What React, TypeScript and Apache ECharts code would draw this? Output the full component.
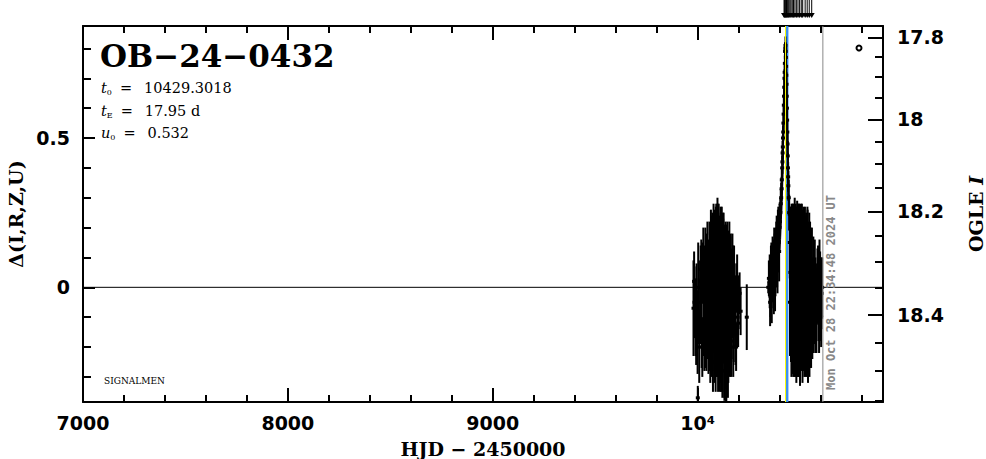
import React, { useEffect, useRef } from "react";
import * as echarts from "echarts";

// ---------- axis ranges & ticks ----------
const X_MIN = 7000;
const X_MAX = 10905;
const Y_MIN = -0.384;
const Y_MAX = 0.875;
const xMajorTicks = [7000, 8000, 9000, 10000];
const xMinorTicks = [7200, 7400, 7600, 7800, 8200, 8400, 8600, 8800, 9200, 9400, 9600, 9800, 10200, 10400, 10600, 10800];
const yMajorTicks = [0, 0.5];
const yMinorTicks = [-0.3, -0.2, -0.1, 0.1, 0.2, 0.3, 0.4, 0.6, 0.7, 0.8];
const ogleMajorTicks = [17.8, 18, 18.2, 18.4];
const ogleMinorTicks = [17.85, 17.9, 17.95, 18.05, 18.1, 18.15, 18.25, 18.3, 18.35, 18.45, 18.5, 18.55];

// ---------- light curve data: [HJD-2450000, delta, error] ----------
const season2023: number[][] = [
  [9980, -0.07, 0.16], [9985, -0.05, 0.12], [9990, -0.1, 0.13], [9995, -0.02, 0.1],
  [10000, -0.15, 0.14], [10001, -0.37, 0.04], [10005, -0.08, 0.11], [10015, 0.02, 0.12],
  [10020, -0.12, 0.15], [10025, 0.05, 0.1], [10030, -0.05, 0.18], [10035, 0.0, 0.14],
  [10040, -0.15, 0.12], [10045, 0.08, 0.1], [10050, -0.08, 0.16], [10055, 0.03, 0.13],
  [10060, -0.1, 0.18], [10063, 0.1, 0.08], [10066, -0.04, 0.14], [10070, 0.12, 0.12],
  [10073, -0.18, 0.1], [10076, 0.05, 0.15], [10080, -0.02, 0.2], [10083, 0.15, 0.1],
  [10086, -0.12, 0.17], [10089, 0.18, 0.09], [10092, 0.02, 0.22], [10095, -0.2, 0.1],
  [10098, 0.14, 0.14], [10101, 0.05, 0.2], [10104, -0.1, 0.18], [10107, 0.12, 0.12],
  [10110, -0.05, 0.22], [10113, -0.22, 0.1], [10116, 0.08, 0.15], [10119, 0.0, 0.2],
  [10122, -0.15, 0.2], [10125, 0.1, 0.13], [10128, -0.05, 0.18], [10131, -0.28, 0.1],
  [10134, 0.05, 0.16], [10137, -0.12, 0.22], [10140, -0.3, 0.08], [10143, 0.06, 0.15],
  [10146, -0.08, 0.18], [10150, -0.2, 0.12], [10153, 0.02, 0.17], [10156, -0.1, 0.15],
  [10160, 0.05, 0.12], [10164, -0.18, 0.12], [10168, -0.02, 0.15], [10172, 0.04, 0.1],
  [10176, -0.12, 0.13], [10180, -0.04, 0.12], [10185, -0.16, 0.1], [10190, 0.0, 0.08],
  [10195, -0.1, 0.1], [10200, -0.05, 0.09], [10210, -0.08, 0.08], [10240, -0.1, 0.11],
];
const season2023b: number[][] = [
  [9983, 0.02, 0.1], [9993, -0.14, 0.12], [10003, 0.0, 0.15], [10008, -0.2, 0.12],
  [10012, -0.05, 0.14], [10018, 0.06, 0.1], [10023, -0.2, 0.1], [10028, 0.1, 0.1],
  [10033, -0.12, 0.16], [10038, 0.05, 0.15], [10043, -0.08, 0.2], [10048, 0.12, 0.1],
  [10053, -0.15, 0.14], [10058, 0.06, 0.16], [10062, -0.2, 0.12], [10065, 0.18, 0.08],
  [10068, -0.1, 0.2], [10072, 0.05, 0.2], [10075, -0.25, 0.1], [10078, 0.2, 0.08],
  [10082, -0.1, 0.22], [10085, 0.08, 0.18], [10088, -0.2, 0.15], [10091, 0.22, 0.06],
  [10094, -0.05, 0.25], [10097, 0.1, 0.2], [10100, -0.15, 0.2], [10103, 0.2, 0.08],
  [10106, -0.02, 0.25], [10109, -0.25, 0.1], [10112, 0.15, 0.12], [10115, -0.1, 0.25],
  [10118, 0.12, 0.15], [10121, -0.25, 0.12], [10124, 0.0, 0.25], [10127, 0.15, 0.1],
  [10130, -0.15, 0.22], [10133, -0.05, 0.25], [10136, 0.1, 0.12], [10139, -0.2, 0.2],
  [10142, -0.05, 0.2], [10145, 0.12, 0.1], [10148, -0.25, 0.12], [10152, -0.05, 0.2],
  [10155, 0.1, 0.12], [10158, -0.15, 0.15], [10162, 0.0, 0.18], [10166, -0.12, 0.12],
  [10170, 0.08, 0.1], [10174, -0.2, 0.1], [10178, 0.02, 0.12], [10183, -0.08, 0.12],
  [10188, -0.2, 0.08], [10193, 0.03, 0.08], [10198, -0.12, 0.08], [10205, -0.02, 0.07],
];
const season2024Rise: number[][] = [
  [10345, 0.0, 0.02], [10352, 0.02, 0.09], [10356, -0.03, 0.07], [10360, 0.05, 0.1],
  [10364, 0.01, 0.06], [10368, 0.08, 0.08], [10372, -0.02, 0.07], [10376, 0.1, 0.08],
  [10380, 0.06, 0.09], [10384, 0.14, 0.08], [10388, 0.1, 0.1], [10392, 0.18, 0.08],
  [10396, 0.15, 0.1], [10400, 0.2, 0.08],
  [10348, 0.03, 0.06], [10354, -0.05, 0.08], [10358, 0.06, 0.08], [10362, -0.02, 0.1],
  [10366, 0.1, 0.07], [10370, 0.03, 0.1], [10374, 0.12, 0.08], [10378, 0.02, 0.1],
  [10382, 0.1, 0.1], [10386, 0.16, 0.08], [10390, 0.08, 0.1], [10394, 0.2, 0.07],
  [10398, 0.12, 0.1],
];
const season2024Peak: number[][] = [
  [10404, 0.25, 0.05], [10408, 0.3, 0.05], [10411, 0.36, 0.04], [10414, 0.42, 0.04],
  [10416, 0.47, 0.04], [10418, 0.52, 0.03], [10420, 0.58, 0.03], [10422, 0.64, 0.03],
  [10424, 0.7, 0.03], [10426, 0.75, 0.03], [10427, 0.79, 0.03], [10428, 0.8, 0.02],
  [10430, 0.79, 0.03], [10432, 0.74, 0.03], [10434, 0.68, 0.04], [10436, 0.6, 0.04],
  [10438, 0.52, 0.04], [10440, 0.44, 0.05], [10442, 0.37, 0.05], [10445, 0.3, 0.06],
  [10402, 0.22, 0.05], [10406, 0.28, 0.05], [10410, 0.33, 0.04], [10413, 0.4, 0.04],
  [10415, 0.45, 0.04], [10417, 0.5, 0.04], [10419, 0.55, 0.03], [10421, 0.61, 0.03],
  [10423, 0.67, 0.03], [10425, 0.72, 0.03], [10429, 0.81, 0.03], [10431, 0.77, 0.03],
  [10433, 0.71, 0.03], [10435, 0.64, 0.04], [10437, 0.56, 0.04], [10439, 0.48, 0.04],
  [10441, 0.4, 0.05], [10443, 0.34, 0.05], [10447, 0.25, 0.06],
];
const season2024Tail: number[][] = [
  [10450, 0.15, 0.12], [10453, 0.05, 0.2], [10456, -0.1, 0.15], [10459, 0.18, 0.1],
  [10462, 0.0, 0.22], [10465, -0.15, 0.14], [10468, 0.12, 0.16], [10471, -0.05, 0.2],
  [10474, 0.2, 0.1], [10477, -0.2, 0.1], [10480, 0.05, 0.22], [10483, -0.08, 0.18],
  [10486, 0.15, 0.14], [10489, -0.18, 0.12], [10492, 0.02, 0.25], [10495, 0.1, 0.18],
  [10498, -0.22, 0.08], [10501, -0.02, 0.2], [10504, 0.16, 0.12], [10507, -0.12, 0.16],
  [10510, 0.06, 0.2], [10513, -0.05, 0.22], [10516, 0.12, 0.15], [10519, -0.18, 0.1],
  [10522, 0.02, 0.18], [10525, -0.08, 0.2], [10528, 0.1, 0.14], [10531, -0.15, 0.14],
  [10534, 0.0, 0.2], [10537, 0.14, 0.12], [10540, -0.1, 0.16], [10543, 0.04, 0.18],
  [10546, -0.2, 0.1], [10549, 0.08, 0.14], [10552, -0.06, 0.18], [10556, 0.02, 0.15],
  [10560, -0.12, 0.12], [10565, 0.05, 0.12], [10570, -0.05, 0.14], [10575, 0.0, 0.1],
  [10580, -0.1, 0.12], [10585, 0.04, 0.09], [10590, -0.06, 0.12], [10595, 0.02, 0.14],
  [10600, -0.08, 0.1], [10605, -0.02, 0.12],
];
const season2024TailB: number[][] = [
  [10451, -0.05, 0.18], [10455, 0.15, 0.12], [10458, -0.2, 0.1], [10461, 0.1, 0.15],
  [10464, 0.2, 0.08], [10467, -0.1, 0.2], [10470, 0.1, 0.15], [10473, -0.15, 0.15],
  [10476, 0.05, 0.2], [10479, 0.18, 0.1], [10482, -0.2, 0.12], [10485, 0.0, 0.25],
  [10488, 0.12, 0.15], [10491, -0.12, 0.18], [10494, 0.2, 0.08], [10497, -0.05, 0.22],
  [10500, -0.25, 0.08], [10503, 0.08, 0.18], [10506, -0.05, 0.2], [10509, 0.18, 0.1],
  [10512, -0.2, 0.12], [10515, 0.0, 0.22], [10518, 0.1, 0.15], [10521, -0.12, 0.18],
  [10524, 0.15, 0.12], [10527, -0.2, 0.1], [10530, 0.05, 0.2], [10533, -0.1, 0.2],
  [10536, 0.12, 0.15], [10539, -0.2, 0.12], [10542, 0.0, 0.2], [10545, 0.1, 0.15],
  [10548, -0.12, 0.15], [10551, 0.05, 0.15], [10554, -0.15, 0.12], [10558, 0.06, 0.14],
  [10562, -0.05, 0.15], [10567, -0.12, 0.1], [10572, 0.04, 0.12], [10577, -0.08, 0.14],
  [10583, -0.02, 0.1], [10588, 0.06, 0.08], [10593, -0.12, 0.1], [10598, 0.0, 0.12],
  [10603, -0.1, 0.1], [10608, 0.0, 0.1],
];
// points above the top of the plot (drawn as arrows)
const offScaleHjd = [10422, 10425, 10428, 10431, 10434, 10438, 10442, 10446, 10451, 10456, 10462, 10468, 10475, 10482, 10490, 10498, 10506, 10513, 10525, 10535, 10545, 10557];
// model curve
const modelHjd = [7000, 10370, 10390, 10405, 10415, 10422, 10428, 10435, 10442, 10452, 10468, 10490, 10905];
const modelDelta = [0, 0, 0.06, 0.16, 0.33, 0.55, 0.8, 0.55, 0.33, 0.16, 0.06, 0, 0];

const T0 = 10429.3018;
const MARK_HJD = 10436;
const NOW_HJD = 10611.44;
const NOW_LABEL = "Mon Oct 28 22:34:48 2024 UT";

// OGLE I magnitude <-> delta (right axis transform)
const magToDelta = (m: number) => 0.5623 - 2.527 * (Math.pow(10, 0.25 * (m - 18)) - 1);
const deltaToMag = (d: number) => 18 + 4 * Math.log10(1 + (0.5623 - d) / 2.527);

const SANS = '"DejaVu Sans", sans-serif';
const SERIF = '"DejaVu Serif", serif';

function errRender(params: any, api: any) {
  const x = api.value(0), v = api.value(1), e = api.value(2);
  const cs = params.coordSys;
  const c = api.coord([x, v]);
  const t = api.coord([x, v + e]);
  const b = api.coord([x, v - e]);
  const y1 = Math.max(cs.y, t[1]);
  const y2 = Math.min(cs.y + cs.height, b[1]);
  const children: any[] = [];
  if (y2 > y1) {
    children.push({ type: "line", shape: { x1: c[0], y1, x2: c[0], y2 }, style: { stroke: "#000", lineWidth: 2 } });
  }
  if (c[1] >= cs.y && c[1] <= cs.y + cs.height) {
    children.push({ type: "rect", shape: { x: c[0] - 2, y: c[1] - 1.5, width: 4, height: 3 }, style: { fill: "#000" } });
  }
  return { type: "group", children };
}

function vline(color: string, width: number, label?: string) {
  return (params: any, api: any) => {
    const cs = params.coordSys;
    const c = api.coord([api.value(0), 0]);
    const children: any[] = [
      { type: "line", shape: { x1: c[0], y1: cs.y, x2: c[0], y2: cs.y + cs.height }, style: { stroke: color, lineWidth: width } },
    ];
    if (label) {
      children.push({
        type: "text",
        x: c[0] + 8,
        y: cs.y + cs.height - 12,
        rotation: Math.PI / 2,
        style: { text: label, fill: color, font: 'bold 12px "DejaVu Sans Mono", monospace', align: "left", verticalAlign: "middle" },
      });
    }
    return { type: "group", children };
  };
}

function arrowRender(params: any, api: any) {
  const cs = params.coordSys;
  const c = api.coord([api.value(0), Y_MAX]);
  const top = cs.y;
  return {
    type: "group",
    children: [
      { type: "line", shape: { x1: c[0], y1: top - 26, x2: c[0], y2: top - 10 }, style: { stroke: "#000", lineWidth: 1 } },
      { type: "polygon", shape: { points: [[c[0] - 3, top - 13], [c[0] + 3, top - 13], [c[0], top - 8]] }, style: { fill: "#000" } },
    ],
  };
}

export default function App() {
  const ref = useRef<HTMLDivElement>(null);
  useEffect(() => {
    if (!ref.current) return;
    const chart = echarts.init(ref.current, null, { renderer: "svg" });
    const axisLineStyle = { color: "#000", width: 2 };
    const tickLabel = { color: "#000", fontFamily: SANS, fontWeight: "bold" as const, fontSize: 19 };
    const xBase = { type: "value" as const, min: X_MIN, max: X_MAX, splitLine: { show: false } };
    const yBase = { type: "value" as const, min: Y_MIN, max: Y_MAX, splitLine: { show: false } };
    const sub = { fontFamily: SERIF, fontSize: 8, fill: "#000", padding: [8, 0, 0, 0] };
    const rich = {
      t: { fontFamily: SERIF, fontStyle: "italic", fontSize: 14.5, fill: "#000" },
      s: sub,
      e: { fontFamily: SERIF, fontSize: 14.5, fill: "#000", padding: [0, 0, 0, 8] },
      n: { fontFamily: SERIF, fontSize: 14.5, fill: "#000", padding: [0, 0, 0, 12] },
    };
    const option: any = {
      animation: false,
      backgroundColor: "#fff",
      grid: { left: 83, right: 103, top: 26, bottom: 57, containLabel: false, outerBoundsMode: "none" },
      xAxis: [
        {
          ...xBase, position: "bottom",
          axisLine: { onZero: false, lineStyle: axisLineStyle },
          axisTick: { inside: true, length: 14, lineStyle: { color: "#000", width: 2 }, customValues: xMajorTicks },
          axisLabel: {
            ...tickLabel, margin: 11, customValues: xMajorTicks,
            formatter: (v: number) => (v === 10000 ? "10⁴" : String(v)),
          },
          name: "HJD − 2450000", nameLocation: "middle", nameGap: 37,
          nameTextStyle: { color: "#000", fontFamily: SERIF, fontWeight: "bold", fontSize: 19 },
        },
        {
          ...xBase, position: "bottom",
          axisLine: { show: false, onZero: false },
          axisTick: { inside: true, length: 7, lineStyle: { color: "#000", width: 2 }, customValues: xMinorTicks },
          axisLabel: { show: false },
        },
        {
          ...xBase, position: "top",
          axisLine: { onZero: false, lineStyle: axisLineStyle },
          axisTick: { inside: true, length: 14, lineStyle: { color: "#000", width: 2 }, customValues: xMajorTicks },
          axisLabel: { show: false },
        },
        {
          ...xBase, position: "top",
          axisLine: { show: false, onZero: false },
          axisTick: { inside: true, length: 7, lineStyle: { color: "#000", width: 2 }, customValues: xMinorTicks },
          axisLabel: { show: false },
        },
      ],
      yAxis: [
        {
          ...yBase, position: "left",
          axisLine: { onZero: false, lineStyle: axisLineStyle },
          axisTick: { inside: true, length: 12, lineStyle: { color: "#000", width: 2 }, customValues: yMajorTicks },
          axisLabel: { ...tickLabel, margin: 13, customValues: yMajorTicks, formatter: (v: number) => String(v) },
          name: "Δ(I,R,Z,U)", nameLocation: "middle", nameGap: 58, nameRotate: 90,
          nameTextStyle: { color: "#000", fontFamily: SERIF, fontWeight: "bold", fontSize: 19 },
        },
        {
          ...yBase, position: "left",
          axisLine: { show: false, onZero: false },
          axisTick: { inside: true, length: 8, lineStyle: { color: "#000", width: 2 }, customValues: yMinorTicks },
          axisLabel: { show: false },
        },
        {
          ...yBase, position: "right",
          axisLine: { onZero: false, lineStyle: axisLineStyle },
          axisTick: { inside: true, length: 15, lineStyle: { color: "#000", width: 2 }, customValues: ogleMajorTicks.map(magToDelta) },
          axisLabel: {
            ...tickLabel, margin: 14, customValues: ogleMajorTicks.map(magToDelta),
            formatter: (v: number) => String(Math.round(deltaToMag(v) * 10) / 10),
          },
          name: "{a|OGLE }{b|I}", nameLocation: "middle", nameGap: 83, nameRotate: 90,
          nameTextStyle: {
            rich: {
              a: { color: "#000", fontFamily: SERIF, fontWeight: "bold", fontSize: 19 },
              b: { color: "#000", fontFamily: SERIF, fontWeight: "bold", fontStyle: "italic", fontSize: 19 },
            },
          },
        },
        {
          ...yBase, position: "right",
          axisLine: { show: false, onZero: false },
          axisTick: { inside: true, length: 8, lineStyle: { color: "#000", width: 2 }, customValues: ogleMinorTicks.map(magToDelta) },
          axisLabel: { show: false },
        },
      ],
      series: [
        { type: "custom", z: 1, renderItem: vline("#3a8ff5", 3), data: [[MARK_HJD]], encode: { x: 0 }, silent: true },
        {
          type: "line", z: 2, showSymbol: false, symbol: "none",
          data: modelHjd.map((h, i) => [h, modelDelta[i]]),
          lineStyle: { color: "#000", width: 1 },
        },
        { type: "custom", z: 3, renderItem: errRender, data: season2023, encode: { x: 0, y: 1 } },
        { type: "custom", z: 3, renderItem: errRender, data: season2023b, encode: { x: 0, y: 1 } },
        { type: "custom", z: 3, renderItem: errRender, data: season2024Rise, encode: { x: 0, y: 1 } },
        { type: "custom", z: 3, renderItem: errRender, data: season2024Peak, encode: { x: 0, y: 1 } },
        { type: "custom", z: 3, renderItem: errRender, data: season2024Tail, encode: { x: 0, y: 1 } },
        { type: "custom", z: 3, renderItem: errRender, data: season2024TailB, encode: { x: 0, y: 1 } },
        { type: "custom", z: 3, renderItem: arrowRender, data: offScaleHjd.map((h) => [h]), encode: { x: 0 } },
        { type: "custom", z: 4, renderItem: vline("#ffff00", 1), data: [[T0]], encode: { x: 0 } },
        { type: "custom", z: 4, renderItem: vline("#888888", 1, NOW_LABEL), data: [[NOW_HJD]], encode: { x: 0 } },
      ],
      graphic: [
        {
          type: "text", x: 100, y: 56,
          style: { text: "OB−24−0432", fill: "#000", font: `bold 31px ${SERIF}`, verticalAlign: "middle", align: "left" },
        },
        { type: "text", x: 101, y: 88, style: { text: "{t|t}{s|0}{e|=}{n|10429.3018}", verticalAlign: "middle", rich } },
        { type: "text", x: 101, y: 111, style: { text: "{t|t}{s|E}{e|=}{n|17.95 d}", verticalAlign: "middle", rich } },
        { type: "text", x: 101, y: 133, style: { text: "{t|u}{s|0}{e|=}{n|0.532}", verticalAlign: "middle", rich } },
        {
          type: "text", x: 104, y: 381,
          style: { text: "SIGNALMEN", fill: "#000", font: `9px ${SERIF}`, verticalAlign: "middle" },
        },
        {
          type: "circle", shape: { cx: 859, cy: 48, r: 2.5 },
          style: { fill: "none", stroke: "#000", lineWidth: 2 },
        },
      ],
    };
    chart.setOption(option);
    return () => chart.dispose();
  }, []);
  return <div ref={ref} style={{ position: "fixed", left: 0, top: 0, width: 986, height: 459 }} />;
}
